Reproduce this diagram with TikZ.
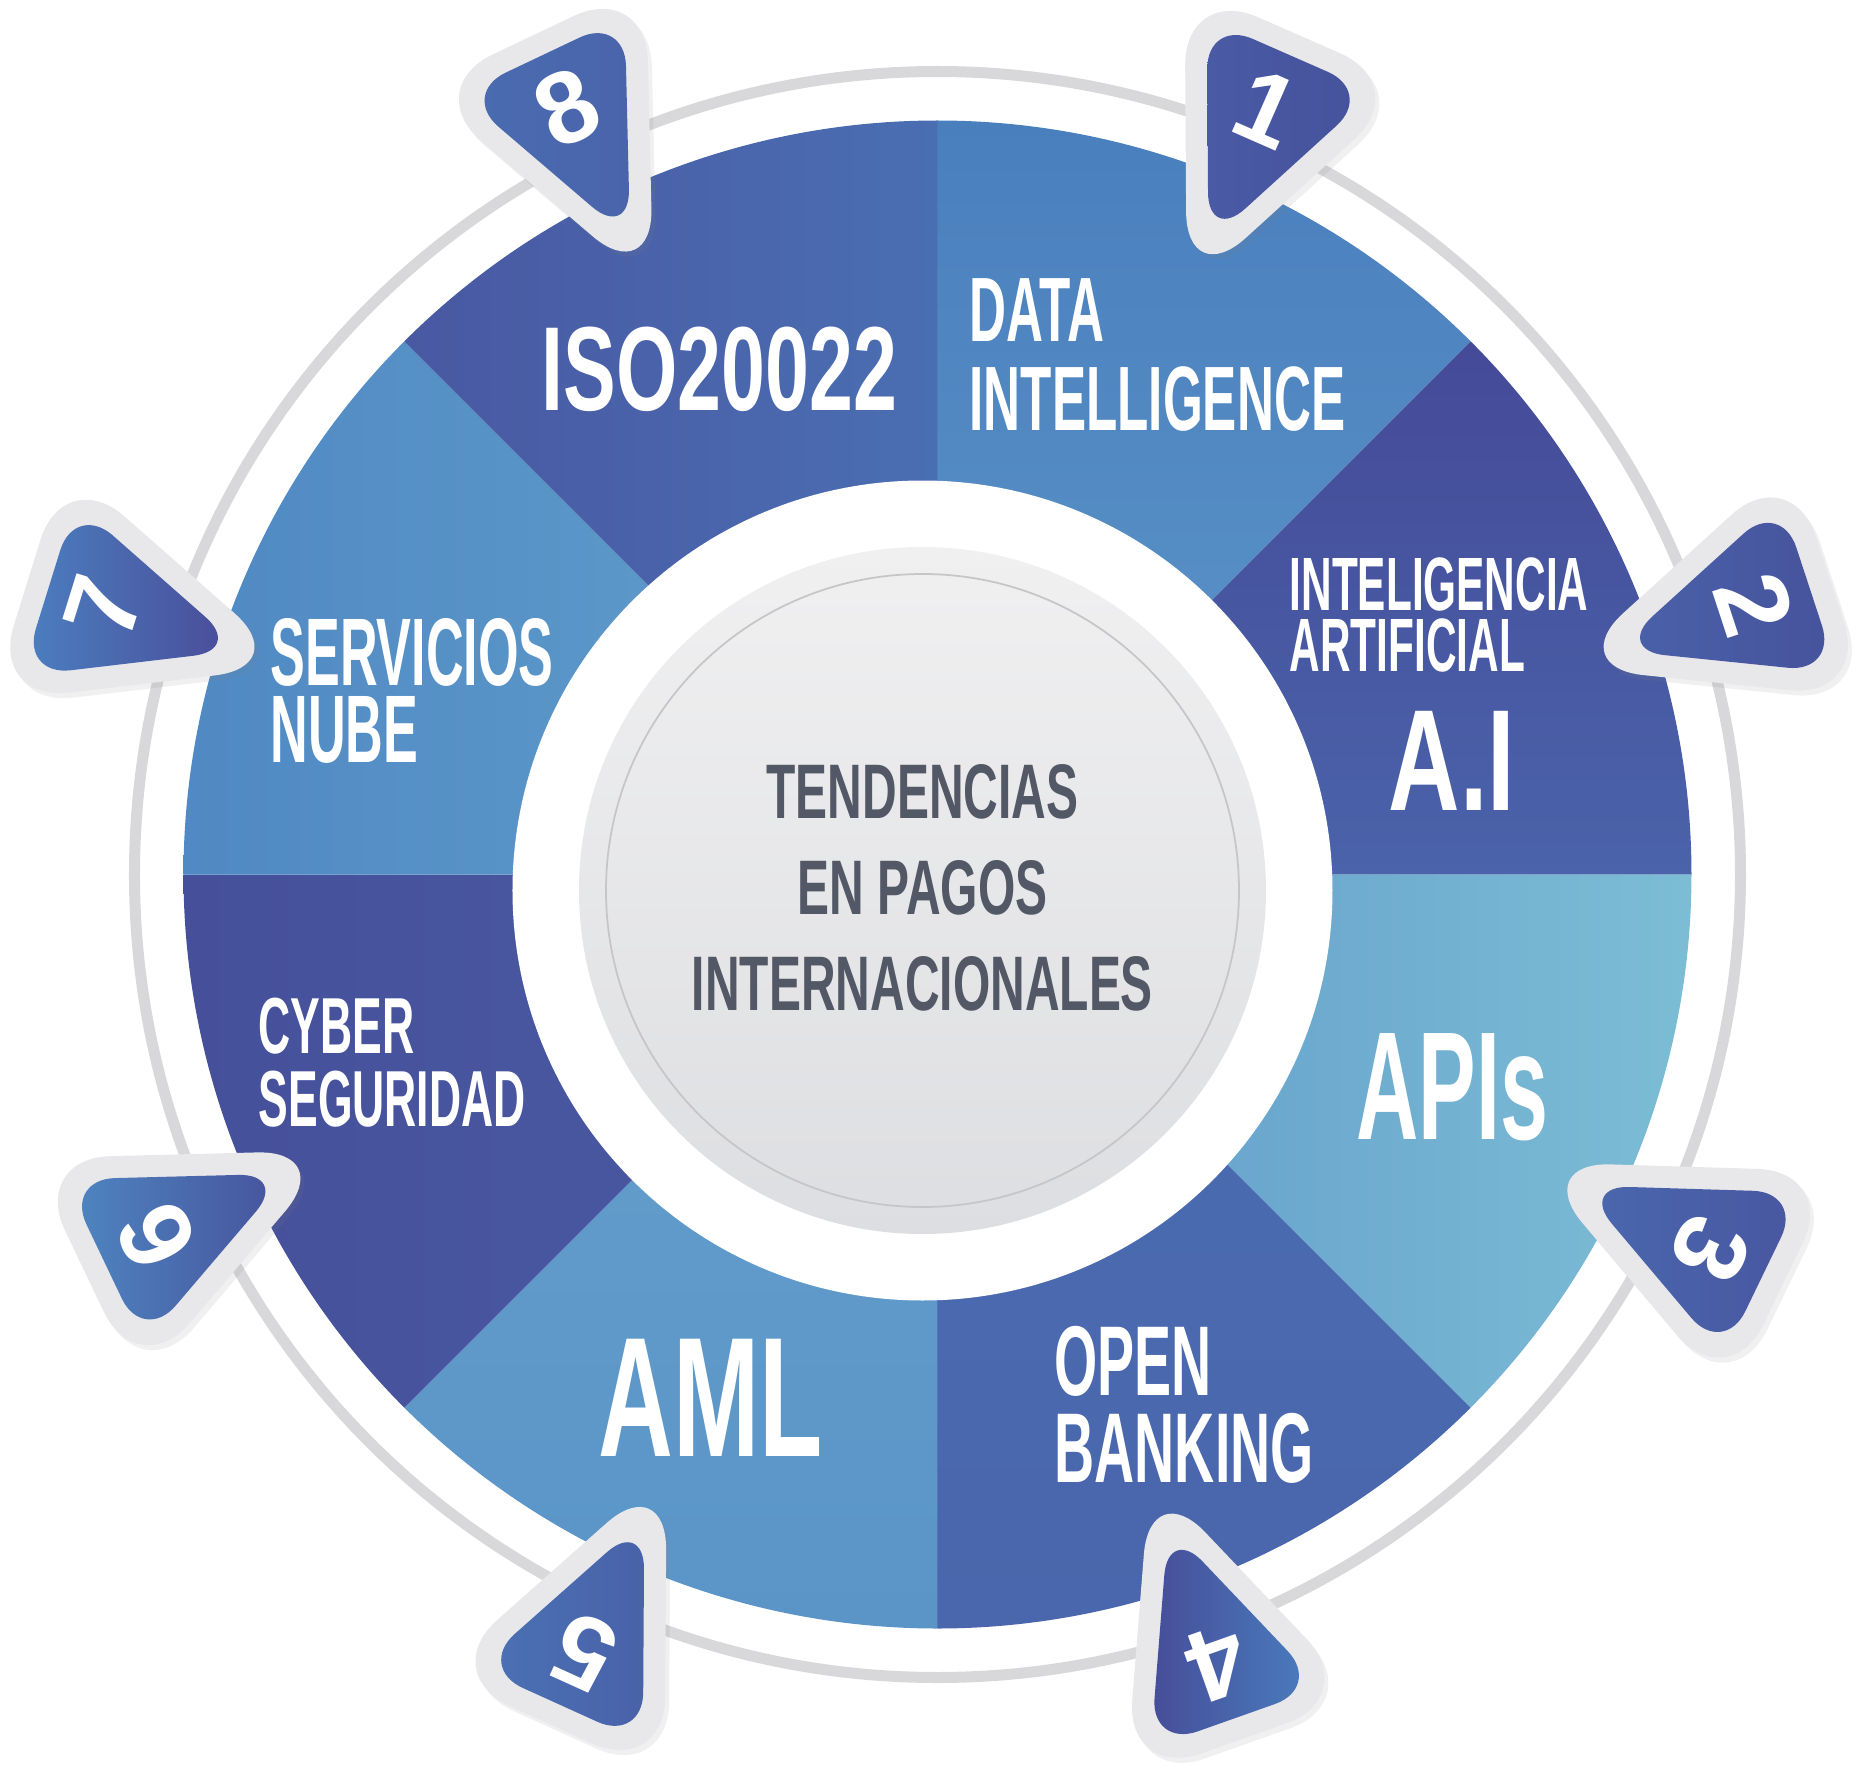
\documentclass[tikz,border=0pt]{standalone}
\usepackage{fontspec}
\usetikzlibrary{shadows}
\newfontfamily\wheelfont[FakeStretch=0.56]{Liberation Sans}
\newfontfamily\widefont[FakeStretch=0.66]{Liberation Sans}
\newfontfamily\hubfont[FakeStretch=0.62]{Liberation Sans}
\newfontfamily\numfont{Liberation Sans}
\definecolor{ringgray}{HTML}{D8D8DA}
\definecolor{rimgray}{HTML}{E8E8EA}
\definecolor{hubtop}{HTML}{F0F0F1}
\definecolor{hubbot}{HTML}{DDDEE1}
\definecolor{hubline}{HTML}{C6C6C8}
\definecolor{hubtext}{HTML}{535866}

\begin{document}
\begin{tikzpicture}[x=0.01cm,y=0.01cm,label/.style={text=white,inner sep=0pt,align=left},hubstyle/.style={text=hubtext,inner sep=0pt,align=center,font=\hubfont\bfseries\fontsize{22}{27.3}\selectfont},tabrim/.style={fill=rimgray,rounded corners=8mm,drop shadow={opacity=0.12,shadow xshift=0.4mm,shadow yshift=-0.5mm}},tabface/.style={rounded corners=5mm},tabnum/.style={text=white,inner sep=0pt,transform shape,font=\numfont\bfseries\fontsize{29}{29}\selectfont}]
\path[use as bounding box] (-937.5,-897.5) rectangle (919.5,874.5);
\coordinate (O) at (0,0);
\coordinate (H) at (-15,-16);
\draw[ringgray,line width=1.1mm] (O) circle[radius=803];
\shade[top color={rgb,255:red,74;green,127;blue,190},bottom color={rgb,255:red,92;green,150;blue,200}] (O) -- (90:754) arc[start angle=90,end angle=45,radius=754] -- cycle;
\shade[top color={rgb,255:red,69;green,74;blue,152},bottom color={rgb,255:red,74;green,99;blue,170}] (O) -- (45:754) arc[start angle=45,end angle=0,radius=754] -- cycle;
\shade[left color={rgb,255:red,95;green,152;blue,201},right color={rgb,255:red,124;green,189;blue,213}] (O) -- (0:754) arc[start angle=0,end angle=-45,radius=754] -- cycle;
\shade[top color={rgb,255:red,74;green,109;blue,178},bottom color={rgb,255:red,74;green,102;blue,172}] (O) -- (-45:754) arc[start angle=-45,end angle=-90,radius=754] -- cycle;
\shade[top color={rgb,255:red,100;green,159;blue,204},bottom color={rgb,255:red,91;green,149;blue,200}] (O) -- (-90:754) arc[start angle=-90,end angle=-135,radius=754] -- cycle;
\shade[left color={rgb,255:red,70;green,80;blue,154},right color={rgb,255:red,74;green,91;blue,165}] (O) -- (-135:754) arc[start angle=-135,end angle=-180,radius=754] -- cycle;
\shade[left color={rgb,255:red,80;green,137;blue,195},right color={rgb,255:red,98;green,160;blue,204}] (O) -- (180:754) arc[start angle=180,end angle=135,radius=754] -- cycle;
\shade[left color={rgb,255:red,73;green,88;blue,162},right color={rgb,255:red,74;green,110;blue,178}] (O) -- (135:754) arc[start angle=135,end angle=90,radius=754] -- cycle;
\fill[white] (H) circle[radius=410];
\shade[top color=hubtop,bottom color=hubbot] (H) circle[radius=343.5];
\draw[hubline,line width=0.5pt] (H) circle[radius=316.5];
\node[hubstyle,anchor=north] (hub) at (-15,110.5) {TENDENCIAS\\EN PAGOS\\INTERNACIONALES};
\node[label,anchor=north west,font=\wheelfont\bfseries\fontsize{26}{25.3}\selectfont] (data) at (31.5,596.5) {DATA\\INTELLIGENCE};
\node[label,anchor=north east,font=\widefont\bfseries\fontsize{34}{34}\selectfont] (iso) at (-39.5,548.5) {ISO20022};
\node[label,anchor=north west,font=\wheelfont\bfseries\fontsize{21.5}{17.4}\selectfont] (intel) at (351.5,317.5) {INTELIGENCIA\\ARTIFICIAL};
\node[label,anchor=north,xscale=1.04,font=\widefont\bfseries\fontsize{41}{41}\selectfont] (ai) at (514.5,163.5) {A.I};
\node[label,anchor=north west,font=\wheelfont\bfseries\fontsize{43.8}{43.8}\selectfont] (apis) at (418.5,-158.5) {APIs};
\node[label,anchor=north west,font=\wheelfont\bfseries\fontsize{28.2}{24.5}\selectfont] (open) at (116.5,-451.5) {OPEN\\BANKING};
\node[label,anchor=north west,xscale=0.92,font=\widefont\bfseries\fontsize{48.5}{48.5}\selectfont] (aml) at (-339.5,-463.5) {AML};
\node[label,anchor=north west,font=\wheelfont\bfseries\fontsize{22.6}{20.8}\selectfont] (cyber) at (-679.5,-122.5) {CYBER\\SEGURIDAD};
\node[label,anchor=north west,xscale=0.97,font=\wheelfont\bfseries\fontsize{27.3}{21.9}\selectfont] (servicios) at (-667.5,256.5) {SERVICIOS\\NUBE};
\begin{scope}[shift={(329.5,766)},rotate=-23.7]
\fill[tabrim] (-125,80) -- (125,80) -- (0,-200) -- cycle;
\shade[tabface,left color={rgb,255:red,74;green,90;blue,165},right color={rgb,255:red,69;green,81;blue,155}] (-91,58) -- (91,58) -- (0,-146) -- cycle;
\node[tabnum] (t1) at (0,0) {1};
\end{scope}
\begin{scope}[shift={(816.5,270)},rotate=-71.8]
\fill[tabrim] (-125,80) -- (125,80) -- (0,-200) -- cycle;
\shade[tabface,left color={rgb,255:red,74;green,98;blue,170},right color={rgb,255:red,70;green,82;blue,156}] (-91,58) -- (91,58) -- (0,-146) -- cycle;
\node[tabnum] (t2) at (0,0) {2};
\end{scope}
\begin{scope}[shift={(773.5,-374.5)},rotate=-115.8]
\fill[tabrim] (-125,80) -- (125,80) -- (0,-200) -- cycle;
\shade[tabface,left color={rgb,255:red,74;green,104;blue,174},right color={rgb,255:red,72;green,86;blue,160}] (-91,58) -- (91,58) -- (0,-146) -- cycle;
\node[tabnum] (t3) at (0,0) {3};
\end{scope}
\begin{scope}[shift={(279.5,-788.5)},rotate=-160.5]
\fill[tabrim] (-125,80) -- (125,80) -- (0,-200) -- cycle;
\shade[tabface,left color={rgb,255:red,70;green,77;blue,153},right color={rgb,255:red,74;green,128;blue,193}] (-91,58) -- (91,58) -- (0,-146) -- cycle;
\node[tabnum] (t4) at (0,0) {4};
\end{scope}
\begin{scope}[shift={(-353.5,-777.5)},rotate=155.6]
\fill[tabrim] (-125,80) -- (125,80) -- (0,-200) -- cycle;
\shade[tabface,left color={rgb,255:red,75;green,114;blue,181},right color={rgb,255:red,73;green,98;blue,169}] (-91,58) -- (91,58) -- (0,-146) -- cycle;
\node[tabnum] (t5) at (0,0) {5};
\end{scope}
\begin{scope}[shift={(-781,-362)},rotate=115.5]
\fill[tabrim] (-125,80) -- (125,80) -- (0,-200) -- cycle;
\shade[tabface,left color={rgb,255:red,79;green,135;blue,195},right color={rgb,255:red,70;green,81;blue,155}] (-91,58) -- (91,58) -- (0,-146) -- cycle;
\node[tabnum] (t6) at (0,0) {6};
\end{scope}
\begin{scope}[shift={(-834,268)},rotate=72.7]
\fill[tabrim] (-125,80) -- (125,80) -- (0,-200) -- cycle;
\shade[tabface,left color={rgb,255:red,75;green,128;blue,193},right color={rgb,255:red,74;green,73;blue,151}] (-91,58) -- (91,58) -- (0,-146) -- cycle;
\node[tabnum] (t7) at (0,0) {7};
\end{scope}
\begin{scope}[shift={(-370,767)},rotate=25.4]
\fill[tabrim] (-125,80) -- (125,80) -- (0,-200) -- cycle;
\shade[tabface,left color={rgb,255:red,74;green,108;blue,177},right color={rgb,255:red,74;green,100;blue,171}] (-91,58) -- (91,58) -- (0,-146) -- cycle;
\node[tabnum] (t8) at (0,0) {8};
\end{scope}
\end{tikzpicture}
\end{document}
